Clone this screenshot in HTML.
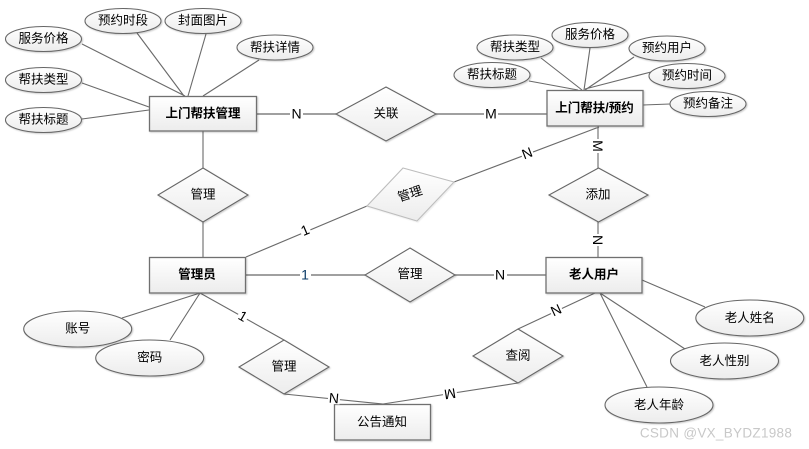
<!DOCTYPE html>
<html>
<head>
<meta charset="utf-8">
<style>
html,body{margin:0;padding:0;background:#fff;width:809px;height:449px;overflow:hidden}
svg{display:block}
text{font-family:"Liberation Sans","Noto Sans CJK SC",sans-serif;font-size:12.5px;fill:#000;text-anchor:middle;dominant-baseline:central}
.b{font-weight:bold}
.l{stroke:#6a6a6a;stroke-width:1.1;fill:none}
.h{stroke:#808080;stroke-width:1.4;fill:none}
.s{fill:url(#g);stroke:#666;stroke-width:1.1;filter:url(#sh)}
.r{fill:url(#g);stroke:#707070;stroke-width:1.3;filter:url(#sh)}
.n{font-size:14px}
.w{fill:#fff;stroke:none}
</style>
</head>
<body>
<svg width="809" height="449" viewBox="0 0 809 449" xmlns="http://www.w3.org/2000/svg">
<defs>
<linearGradient id="g" x1="0" y1="0" x2="0" y2="1"><stop offset="0" stop-color="#ffffff"/><stop offset="1" stop-color="#ececec"/></linearGradient>
<filter id="sh" x="-10%" y="-10%" width="125%" height="130%"><feDropShadow dx="1" dy="1" stdDeviation="0.7" flood-color="#000" flood-opacity="0.2"/></filter>
<filter id="sh2" x="-10%" y="-10%" width="125%" height="130%"><feDropShadow dx="1" dy="1" stdDeviation="0.6" flood-color="#000" flood-opacity="0.08"/></filter>
</defs>

<!-- connectors -->
<path class="l" d="M82 44L185 96M137 33L184 96M206 34L188 96M259 60L203 96M82 83L149 107M82 119L149 110"/>
<path class="h" d="M257 114H336M436 114H547"/>
<path class="l" d="M529 81L578 90M541 58L582 90M590 48L584 90M634 57L585 90M651 72L585 89M643 105L670 104"/>
<path class="l" d="M454 182L599 127M598 126V168M598 222V257M203 131V168M203 222V257"/>
<path class="l" d="M246 257L367 206"/>
<path class="h" d="M245 275H365M455 275H546"/>
<path class="l" d="M200 293L122 318M200 293L170 340M200 293L284 340"/>
<path class="l" d="M284 394L383 404L518 383M518 329L595 293"/>
<path class="l" d="M600 293L647 387M600 293L685 349M642 280L705 307"/>

<!-- top-left entity attributes -->
<ellipse class="s" cx="43.5" cy="39" rx="38" ry="12.5"/><text x="43.5" y="38.5">服务价格</text>
<ellipse class="s" cx="123" cy="21" rx="38" ry="12.5"/><text x="123" y="20.5">预约时段</text>
<ellipse class="s" cx="203" cy="21" rx="38" ry="12.5"/><text x="203" y="20.5">封面图片</text>
<ellipse class="s" cx="275" cy="47.5" rx="38" ry="12.5"/><text x="275" y="47.5">帮扶详情</text>
<ellipse class="s" cx="43.5" cy="80" rx="38" ry="12.5"/><text x="43.5" y="79.5">帮扶类型</text>
<ellipse class="s" cx="43.5" cy="120" rx="38" ry="12.5"/><text x="43.5" y="119.5">帮扶标题</text>

<!-- top-right entity attributes -->
<ellipse class="s" cx="515" cy="47.5" rx="38" ry="12.5"/><text x="515" y="47">帮扶类型</text>
<ellipse class="s" cx="590" cy="35" rx="38" ry="12.5"/><text x="590" y="34.5">服务价格</text>
<ellipse class="s" cx="667" cy="48.5" rx="38" ry="12.5"/><text x="667" y="48">预约用户</text>
<ellipse class="s" cx="687" cy="76" rx="38" ry="12.5"/><text x="687" y="75.5">预约时间</text>
<ellipse class="s" cx="492" cy="75" rx="38" ry="12.5"/><text x="492" y="74.5">帮扶标题</text>
<ellipse class="s" cx="708" cy="104" rx="38" ry="12.5"/><text x="708" y="103.5">预约备注</text>

<!-- bottom attributes -->
<ellipse class="s" cx="77.7" cy="329" rx="54" ry="18"/><text x="77.7" y="328.5">账号</text>
<ellipse class="s" cx="149.7" cy="358" rx="54" ry="18"/><text x="149.7" y="357.5">密码</text>
<ellipse class="s" cx="749.8" cy="318" rx="54" ry="18"/><text x="749.8" y="318">老人姓名</text>
<ellipse class="s" cx="724.5" cy="361" rx="54" ry="18"/><text x="724.5" y="361">老人性别</text>
<ellipse class="s" cx="659" cy="405" rx="54" ry="18"/><text x="659" y="405">老人年龄</text>

<!-- entities -->
<rect class="r" x="149.5" y="96.5" width="107" height="34.5"/><text class="b" x="203" y="113.5">上门帮扶管理</text>
<rect class="r" x="547" y="90.5" width="96" height="35.5"/><text class="b" x="594.5" y="108">上门帮扶/预约</text>
<rect class="r" x="149.5" y="257.5" width="96" height="35.5"/><text class="b" x="197" y="274.5">管理员</text>
<rect class="r" x="546" y="257.5" width="96" height="35.5"/><text class="b" x="594" y="274.5">老人用户</text>
<rect class="r" x="334.5" y="404.5" width="96" height="35.5"/><text x="382" y="422">公告通知</text>

<!-- relationships -->
<polygon class="s" points="386,87 436,114 386,141 336,114"/><text x="386" y="113.5">关联</text>
<polygon class="s" points="203,168 248,195 203,222 158,195"/><text x="203" y="194.5">管理</text>
<polygon class="s" style="stroke:#bdbdbd;filter:url(#sh2)" points="403,168 454,182 417,221 367,206"/><text x="410" y="194" transform="rotate(-18 410 194)">管理</text>
<polygon class="s" points="410,248 455,275 410,302 365,275"/><text x="410" y="274">管理</text>
<polygon class="s" points="598.5,168 648,195 598.5,222 549,195"/><text x="598" y="194.5">添加</text>
<polygon class="s" points="284,340 329,367 284,394 239,367"/><text x="284" y="366.5">管理</text>
<polygon class="s" points="518,329 563,356 518,383 473,356"/><text x="518" y="355.5">查阅</text>

<!-- cardinality labels -->
<rect class="w" x="290" y="107" width="13" height="14"/><text class="n" x="296.5" y="113.5">N</text>
<rect class="w" x="484" y="107" width="14" height="14"/><text class="n" x="491" y="113.5">M</text>
<g transform="translate(527 153) rotate(-21)"><rect class="w" x="-6" y="-6" width="12" height="12"/><text class="n" x="0" y="0">N</text></g>
<g transform="translate(598 146) rotate(90)"><rect class="w" x="-7" y="-6" width="14" height="12"/><text class="n" x="0" y="0">M</text></g>
<g transform="translate(598 240) rotate(90)"><rect class="w" x="-6" y="-6" width="12" height="12"/><text class="n" x="0" y="0">N</text></g>
<g transform="translate(305 230) rotate(-23)"><rect class="w" x="-5" y="-6" width="10" height="12"/><text class="n" x="0" y="0">1</text></g>
<rect class="w" x="300" y="268" width="11" height="14"/><text class="n" x="305" y="274.5" style="fill:#0a3a66">1</text>
<rect class="w" x="494" y="268" width="13" height="14"/><text class="n" x="500" y="274.5">N</text>
<g transform="translate(243 316) rotate(30)"><rect class="w" x="-5" y="-6" width="10" height="12"/><text class="n" x="0" y="0">1</text></g>
<g transform="translate(334 398) rotate(5)"><rect class="w" x="-6" y="-6" width="12" height="12"/><text class="n" x="0" y="0">N</text></g>
<g transform="translate(450 394) rotate(171)"><rect class="w" x="-7" y="-6" width="14" height="12"/><text class="n" x="0" y="0">M</text></g>
<g transform="translate(556 310) rotate(-25)"><rect class="w" x="-6" y="-6" width="12" height="12"/><text class="n" x="0" y="0">N</text></g>

<!-- watermark -->
<text x="716" y="433" style="font-size:13.5px;fill:#c8c8c8;letter-spacing:0.3px">CSDN @VX_BYDZ1988</text>
</svg>
</body>
</html>
